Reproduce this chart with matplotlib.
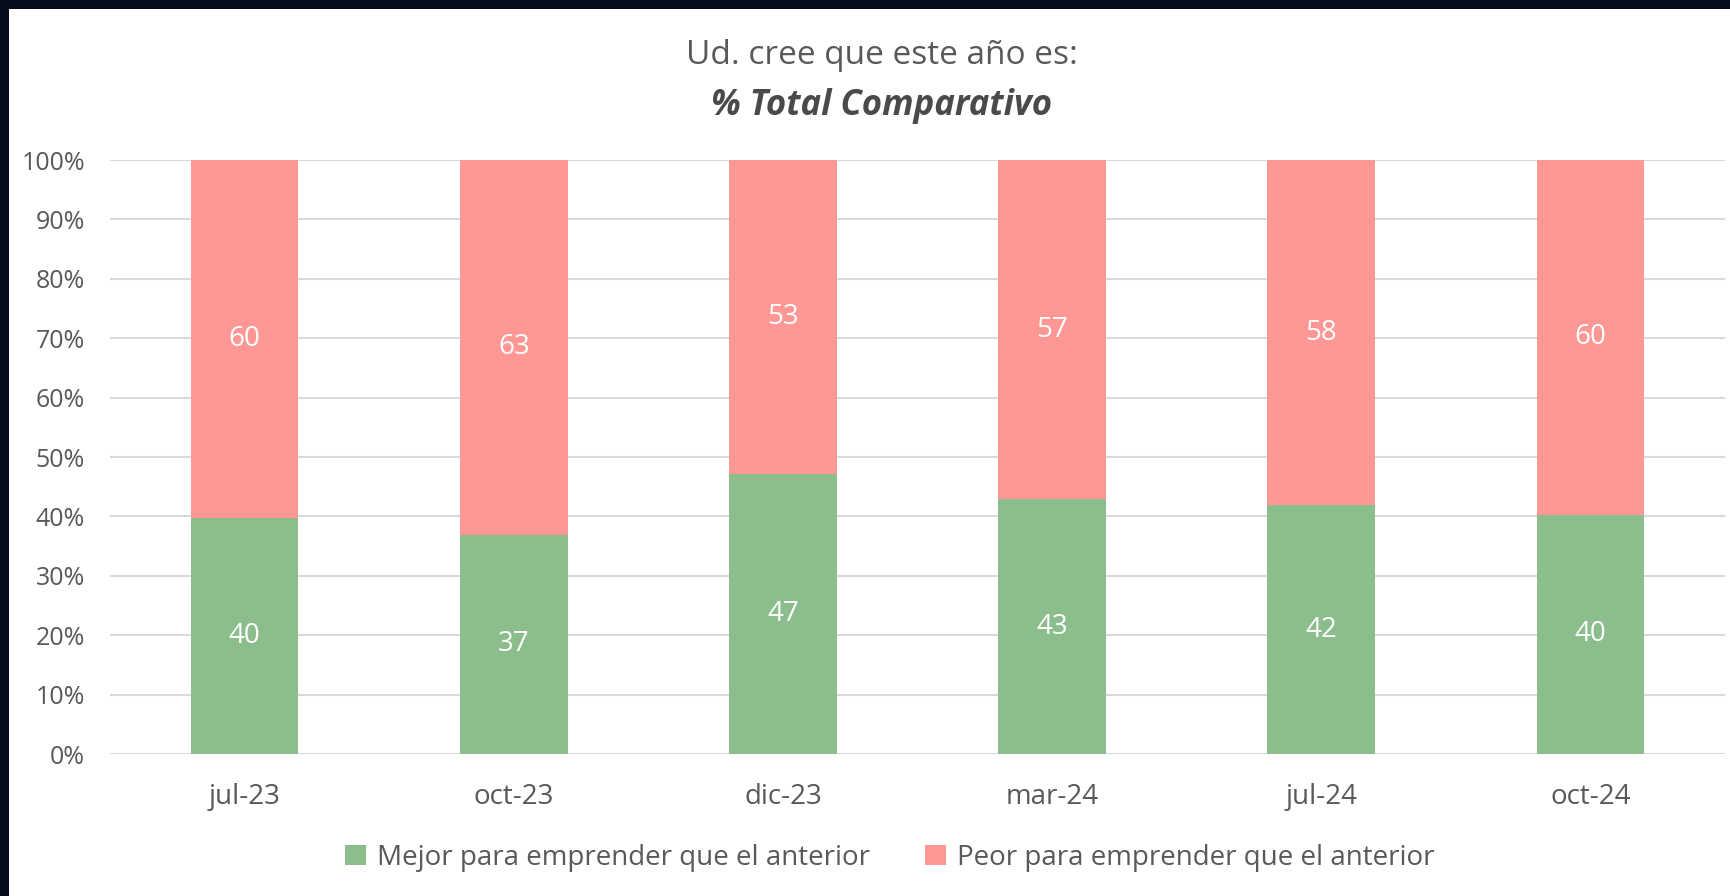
import matplotlib.pyplot as plt
from matplotlib.patches import Rectangle
import numpy as np

# data
periods = ['jul-23', 'oct-23', 'dic-23', 'mar-24', 'jul-24', 'oct-24']
mejor = [39.7, 36.9, 47.2, 42.9, 41.9, 40.3]
peor = [60.3, 63.1, 52.8, 57.1, 58.1, 59.7]
mejor_labels = ['40', '37', '47', '43', '42', '40']
peor_labels = ['60', '63', '53', '57', '58', '60']
yticks = [0, 10, 20, 30, 40, 50, 60, 70, 80, 90, 100]
series_names = ['Mejor para emprender que el anterior',
                'Peor para emprender que el anterior']

green = '#8BBE8C'
red = '#FF9795'
grey_text = '#595959'

plt.rcParams['font.family'] = ['Open Sans', 'DejaVu Sans']

fig = plt.figure(figsize=(17.31, 8.96), dpi=100)
fig.patch.set_facecolor('#070c1c')
#white panel
fig.patches.append(Rectangle((9/1731, 0), 1, 1 - 9/896, transform=fig.transFigure,
                             facecolor='white', edgecolor='none', zorder=0))

ax = fig.add_axes([110/1731, 142/896, 1615/1731, 594/896])
ax.set_zorder(2)
ax.patch.set_alpha(0)

x = np.arange(len(periods))
w = 0.4
b1 = ax.bar(x, mejor, w, color=green, label=series_names[0], zorder=3)
b2 = ax.bar(x, peor, w, bottom=mejor, color=red, label=series_names[1], zorder=3)

for i in range(len(periods)):
    ax.text(x[i], mejor[i] / 2, mejor_labels[i], ha='center', va='center',
            color='white', fontsize=20, zorder=4)
    ax.text(x[i], mejor[i] + peor[i] / 2, peor_labels[i], ha='center', va='center',
            color='white', fontsize=20, zorder=4)

ax.set_xlim(-0.5, len(periods) - 0.5)
ax.set_ylim(0, 100)
ax.set_yticks(yticks)
ax.set_yticklabels([str(v) + '%' for v in yticks])
ax.set_xticks(x)
ax.set_xticklabels(periods)
ax.yaxis.grid(True, color='#D9D9D9', linewidth=1.5, zorder=0)
ax.set_axisbelow(True)
for s in ax.spines.values():
    s.set_visible(False)
ax.tick_params(axis='y', length=0, pad=18, labelsize=18, labelcolor=grey_text)
ax.tick_params(axis='x', length=0, pad=21, labelsize=20, labelcolor=grey_text)

fig.text(0.5095, 1 - 56/896, 'Ud. cree que este año es:', ha='center', va='center',
         fontsize=24, color=grey_text)
fig.text(0.5095, 1 - 106/896, '% Total Comparativo', ha='center', va='center',
         fontsize=25, color='#4a4a4a', fontweight='bold', fontstyle='italic')

fig.legend(handles=[b1, b2], loc='center', bbox_to_anchor=(0.514, 1 - 858/896), ncol=2,
           frameon=False, fontsize=20, labelcolor=grey_text, handlelength=0.75,
           handleheight=0.75, handletextpad=0.4, columnspacing=2.0)

fig.savefig('out.png', dpi=100, facecolor=fig.get_facecolor())
